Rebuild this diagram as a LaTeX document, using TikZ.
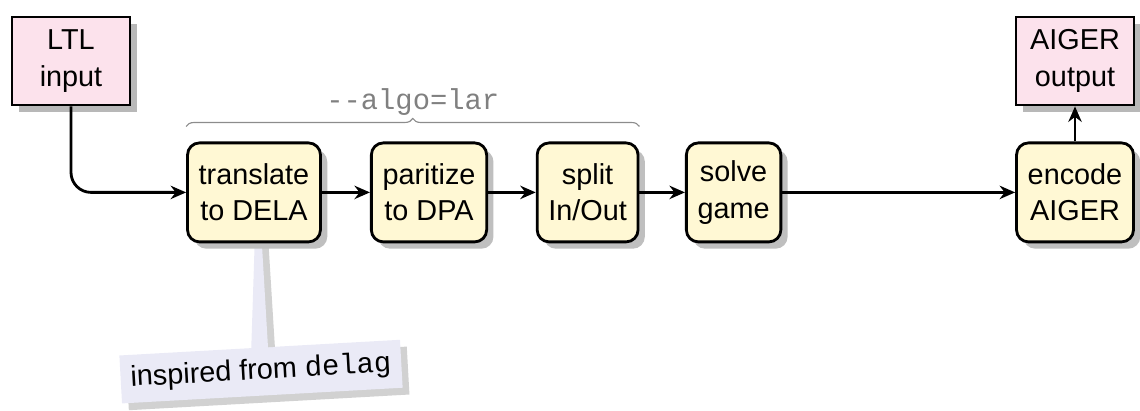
\documentclass[tikz,border=0pt]{standalone}
\usepackage{fontspec}
\setmainfont{Liberation Sans}
\setmonofont{Liberation Mono}
\usepackage{tikz}
\usetikzlibrary{arrows.meta,shapes,shadows,calc,decorations.pathreplacing,backgrounds}
\usepackage{xcolor}
\definecolor{iopink}{RGB}{252,226,236}
\definecolor{stepyellow}{RGB}{255,248,212}
\definecolor{notelav}{RGB}{234,234,246}

\begin{document}
\begin{tikzpicture}[
    font=\fontsize{20.5}{26}\selectfont,
    iobox/.style={rectangle, draw, line width=2pt, fill=iopink, minimum width=2.95cm, minimum height=2.2cm, align=center,
        drop shadow={shadow xshift=0.17cm, shadow yshift=-0.17cm, fill=black!28, opacity=1}},
    stepbox/.style={rectangle, rounded corners=0.3cm, draw, line width=2pt, fill=stepyellow, minimum height=2.475cm, inner xsep=0.28cm, align=center,
        drop shadow={shadow xshift=0.17cm, shadow yshift=-0.17cm, fill=black!25, opacity=1}},
    flow/.style={-{Stealth[length=11pt,width=9.5pt]}, line width=2pt}
]
    \useasboundingbox (0,0) rectangle (28.5,-10.25);

    \node[iobox] (ltl) at (1.775,-1.525) {LTL\\input};
    \node[stepbox] (trans) at (6.35,-4.81) {translate\\to DELA};
    \node[stepbox] (par) at (10.725,-4.81) {paritize\\to DPA};
    \node[stepbox] (split) at (14.69,-4.81) {split\\In/Out};
    \node[stepbox] (solve) at (18.34,-4.81) {solve\\game};
    \node[stepbox] (enc) at (26.875,-4.81) {encode\\AIGER};
    \node[iobox] (out) at (26.875,-1.525) {AIGER\\output};

    \draw[flow, rounded corners=0.5cm] (ltl.south) |- (trans.west);
    \draw[flow] (trans) -- (par);
    \draw[flow] (par) -- (split);
    \draw[flow] (split) -- (solve);
    \draw[flow] (solve) -- (enc);
    \draw[flow] (enc) -- (out);

    % options of the lar pipeline
    \draw[black!45, line width=0.8pt, decorate, decoration={brace, amplitude=0.2cm}]
        ($(trans.north west)+(0,0.375)$) -- ($(split.north east)+(0,0.375)$);
    \node[anchor=base, text=black!50] (algo) at ($(trans.north west)!0.5!(split.north east)+(0,0.8)$) {\texttt{-{}-algo=lar}};

    % note, drawn behind the boxes
    \begin{scope}[on background layer]
        \node[rectangle, rotate=3.2, fill=notelav, minimum height=1.2cm, inner xsep=0.25cm,
            drop shadow={shadow xshift=0.17cm, shadow yshift=-0.17cm, fill=black!18, opacity=1}]
            (note) at (6.525,-9.29) {inspired from \texttt{delag}};
        \coordinate (tip) at ($(trans.center)+(0.08,0.7)$);
        \fill[black!18] ($(note.north)!0.06!(note.north west)+(0.17,0)$) -- ($(tip)+(0.17,-0.17)$)
            -- ($(note.north)!0.06!(note.north east)+(0.17,0)$) -- cycle;
        \fill[notelav] ($(note.north)!0.06!(note.north west)+(0,-0.05)$) -- (tip)
            -- ($(note.north)!0.06!(note.north east)+(0,-0.05)$) -- cycle;
    \end{scope}
\end{tikzpicture}
\end{document}
